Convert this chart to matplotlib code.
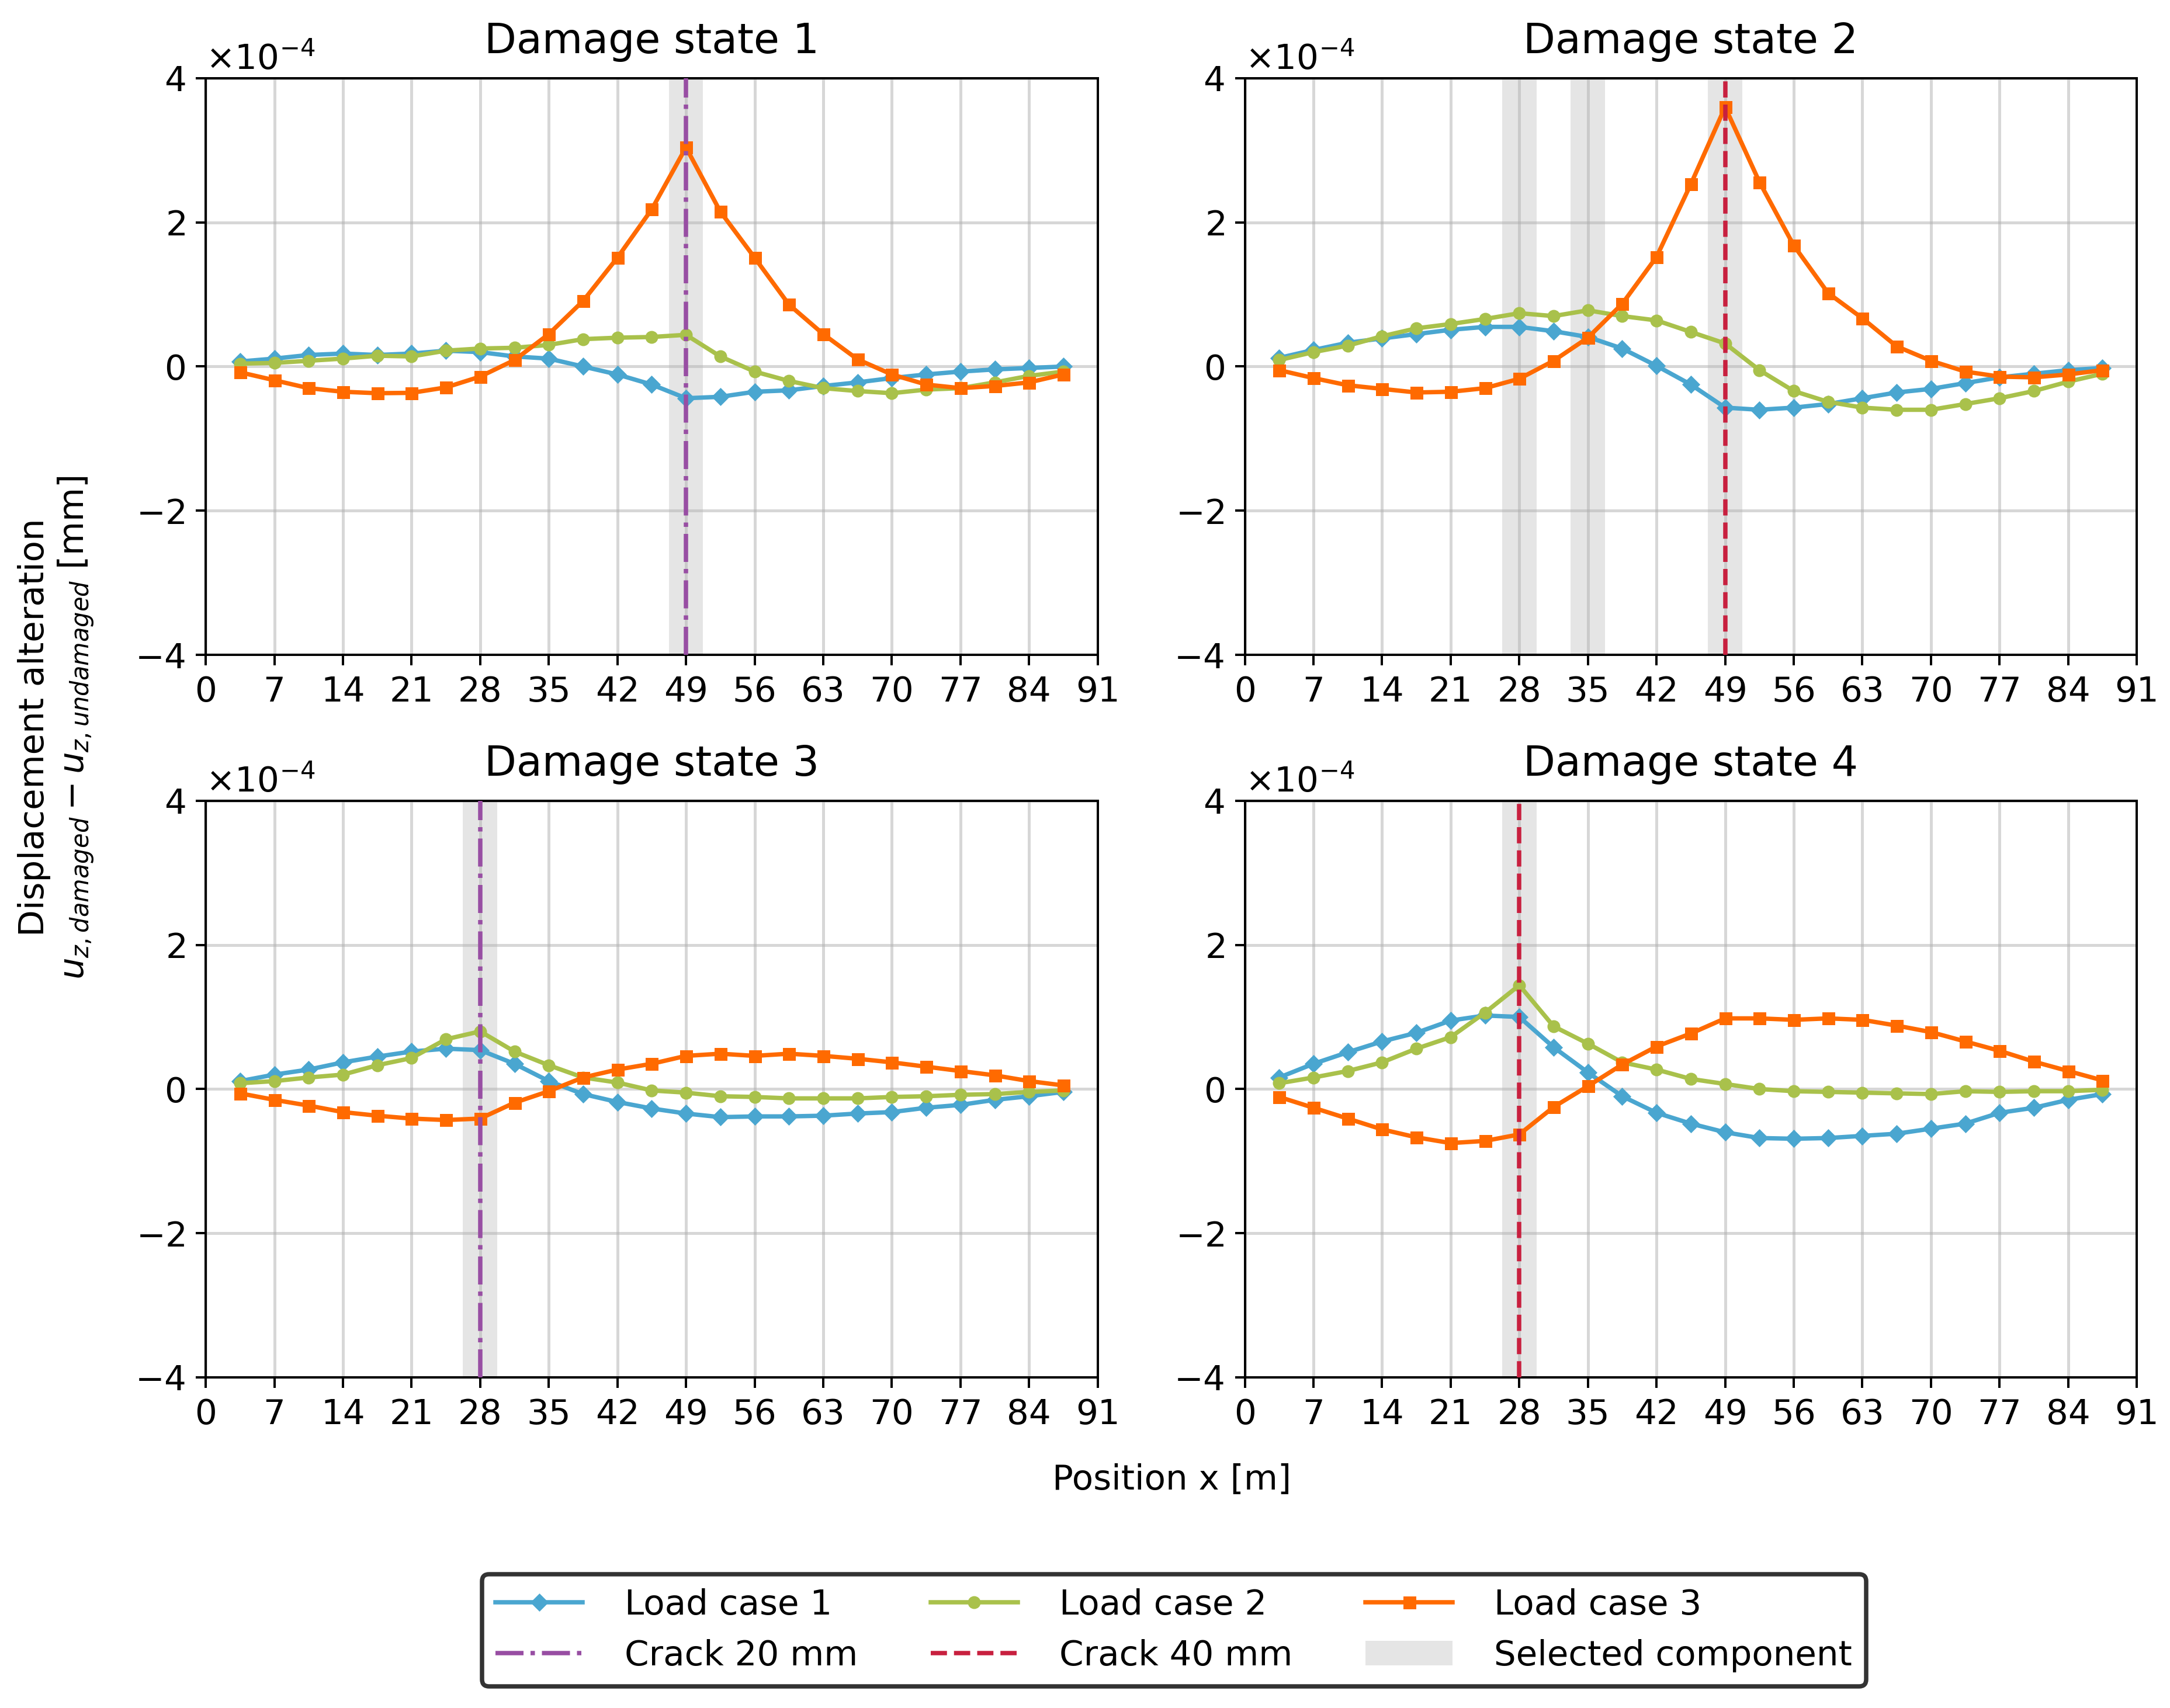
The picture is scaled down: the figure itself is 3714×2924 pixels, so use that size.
import matplotlib
matplotlib.use("Agg")
import matplotlib.pyplot as plt
from matplotlib.patches import Patch
from matplotlib.lines import Line2D

plt.rcParams['font.family'] = ['DejaVu Sans']
plt.rcParams['font.size'] = 11.9

# ---------------- data ----------------
positions = [3.5, 7.0, 10.5, 14.0, 17.5, 21.0, 24.5, 28.0, 31.5, 35.0, 38.5, 42.0, 45.5,
             49.0, 52.5, 56.0, 59.5, 63.0, 66.5, 70.0, 73.5, 77.0, 80.5, 84.0, 87.5]

# values in units of 1e-4 mm
ds1_lc1 = [0.07, 0.11, 0.16, 0.18, 0.16, 0.18, 0.22, 0.20, 0.14, 0.11, 0.00, -0.11, -0.25,
           -0.44, -0.42, -0.35, -0.33, -0.27, -0.22, -0.16, -0.11, -0.07, -0.04, -0.02, 0.00]
ds1_lc2 = [0.04, 0.05, 0.08, 0.11, 0.15, 0.14, 0.22, 0.25, 0.26, 0.30, 0.38, 0.40, 0.41,
           0.44, 0.14, -0.07, -0.20, -0.30, -0.34, -0.37, -0.32, -0.30, -0.22, -0.13, -0.07]
ds1_lc3 = [-0.08, -0.19, -0.30, -0.35, -0.37, -0.365, -0.29, -0.14, 0.09, 0.45, 0.91, 1.51, 2.18,
           3.04, 2.15, 1.51, 0.86, 0.45, 0.10, -0.11, -0.25, -0.30, -0.27, -0.22, -0.11]

ds2_lc1 = [0.12, 0.23, 0.33, 0.39, 0.45, 0.51, 0.55, 0.55, 0.49, 0.41, 0.25, 0.01, -0.25,
           -0.57, -0.60, -0.57, -0.52, -0.44, -0.36, -0.31, -0.23, -0.15, -0.10, -0.05, -0.02]
ds2_lc2 = [0.09, 0.20, 0.29, 0.42, 0.53, 0.59, 0.66, 0.74, 0.70, 0.78, 0.70, 0.64, 0.48,
           0.32, -0.05, -0.34, -0.49, -0.57, -0.60, -0.60, -0.52, -0.44, -0.34, -0.21, -0.10]
ds2_lc3 = [-0.05, -0.16, -0.26, -0.31, -0.36, -0.35, -0.30, -0.17, 0.08, 0.40, 0.87, 1.52, 2.53,
           3.60, 2.56, 1.68, 1.02, 0.67, 0.28, 0.08, -0.07, -0.14, -0.15, -0.11, -0.05]

ds3_lc1 = [0.11, 0.20, 0.27, 0.37, 0.45, 0.52, 0.56, 0.54, 0.35, 0.11, -0.07, -0.18, -0.27,
           -0.34, -0.39, -0.38, -0.38, -0.37, -0.34, -0.32, -0.26, -0.22, -0.15, -0.10, -0.04]
ds3_lc2 = [0.08, 0.11, 0.16, 0.20, 0.33, 0.43, 0.69, 0.80, 0.52, 0.33, 0.16, 0.09, -0.02,
           -0.05, -0.10, -0.11, -0.13, -0.13, -0.13, -0.11, -0.10, -0.08, -0.07, -0.04, -0.02]
ds3_lc3 = [-0.06, -0.15, -0.23, -0.32, -0.37, -0.41, -0.43, -0.41, -0.19, -0.03, 0.16, 0.27, 0.35,
           0.46, 0.49, 0.46, 0.49, 0.46, 0.42, 0.37, 0.31, 0.25, 0.19, 0.11, 0.05]

ds4_lc1 = [0.16, 0.35, 0.51, 0.66, 0.78, 0.95, 1.02, 1.00, 0.58, 0.23, -0.10, -0.33, -0.48,
           -0.60, -0.68, -0.69, -0.68, -0.65, -0.62, -0.55, -0.48, -0.33, -0.26, -0.15, -0.07]
ds4_lc2 = [0.08, 0.16, 0.25, 0.37, 0.56, 0.72, 1.06, 1.44, 0.87, 0.63, 0.37, 0.27, 0.14,
           0.07, 0.00, -0.03, -0.04, -0.05, -0.06, -0.07, -0.03, -0.04, -0.03, -0.03, -0.01]
ds4_lc3 = [-0.11, -0.26, -0.41, -0.56, -0.67, -0.75, -0.72, -0.63, -0.25, 0.04, 0.34, 0.59, 0.77,
           0.98, 0.98, 0.96, 0.98, 0.96, 0.88, 0.79, 0.66, 0.53, 0.38, 0.25, 0.12]

titles = ["Damage state 1", "Damage state 2", "Damage state 3", "Damage state 4"]
series = [(ds1_lc1, ds1_lc2, ds1_lc3), (ds2_lc1, ds2_lc2, ds2_lc3),
          (ds3_lc1, ds3_lc2, ds3_lc3), (ds4_lc1, ds4_lc2, ds4_lc3)]
crack_pos = [49, 49, 28, 28]
crack_size = ["20", "40", "20", "40"]
selected = [[49], [28, 35, 49], [28], [28]]
component_width = 3.5
scale = 1e-4
xticks = list(range(0, 92, 7))
yticks = [-4, -2, 0, 2, 4]

# ---------------- style ----------------
c_lc = ['#4aa6d0', '#a9c14b', '#ff6a00']
m_lc = ['D', 'o', 's']
lc_labels = ['Load case 1', 'Load case 2', 'Load case 3']
crack_style = {"20": dict(color='#984ea3', ls='-.'), "40": dict(color='#c8203f', ls='--')}
band_color = '#e5e5e5'

fig, axes = plt.subplots(2, 2, figsize=(3714 / 360, 2924 / 360), dpi=360)
fig.subplots_adjust(left=0.0948, right=0.9847, top=0.9542, bottom=0.1936,
                    wspace=0.165, hspace=0.253)

for ax, title, ser, cp, cs, sel in zip(axes.flat, titles, series, crack_pos, crack_size, selected):
    for s in sel:
        ax.axvspan(s - component_width / 2, s + component_width / 2, color=band_color, lw=0, zorder=1)
    for vals, col, mk in zip(ser, c_lc, m_lc):
        ax.plot(positions, [v * scale for v in vals], color=col, marker=mk, ms=3.4, lw=1.5, zorder=2)
    ax.axvline(cp, lw=1.5, zorder=3, **crack_style[cs])
    ax.set_xlim(0, 91)
    ax.set_ylim(-4 * scale, 4 * scale)
    ax.set_xticks(xticks)
    ax.set_yticks([t * scale for t in yticks])
    ax.ticklabel_format(axis='y', style='sci', scilimits=(0, 0), useMathText=True)
    ax.grid(True, color='#b0b0b0', alpha=0.5, lw=1.0)
    ax.set_title(title, pad=8.5)

fig.text(0.540, 0.1335, 'Position x [m]', ha='center', va='center')
fig.text(0.0262, 0.574, 'Displacement alteration\n$u_{z,damaged} - u_{z,undamaged}$ [mm]',
         rotation=90, ha='center', va='center', multialignment='center')

handles = [
    Line2D([], [], color=c_lc[0], marker=m_lc[0], ms=3.4, lw=1.5, label=lc_labels[0]),
    Line2D([], [], lw=1.5, label='Crack 20 mm', **crack_style["20"]),
    Line2D([], [], color=c_lc[1], marker=m_lc[1], ms=3.4, lw=1.5, label=lc_labels[1]),
    Line2D([], [], lw=1.5, label='Crack 40 mm', **crack_style["40"]),
    Line2D([], [], color=c_lc[2], marker=m_lc[2], ms=3.4, lw=1.5, label=lc_labels[2]),
    Patch(facecolor=band_color, edgecolor='none', label='Selected component'),
]
leg = fig.legend(handles=handles, loc='center', bbox_to_anchor=(0.541, 0.0455), ncol=3,
                 framealpha=1, fancybox=True, handlelength=2.5, handletextpad=1.2,
                 columnspacing=2.1)
leg.get_frame().set_edgecolor('#333333')
leg.get_frame().set_linewidth(1.5)

fig.savefig('out.png', dpi=360)
